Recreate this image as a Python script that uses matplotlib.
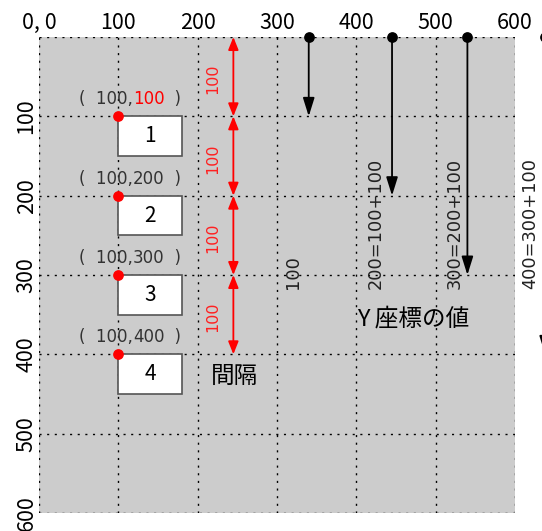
import matplotlib
matplotlib.use("Agg")
import matplotlib.pyplot as plt
from matplotlib.patches import Rectangle
from matplotlib.offsetbox import TextArea, HPacker, AnnotationBbox

plt.rcParams['font.family'] = ['Noto Sans CJK JP', 'DejaVu Sans']

# data
x_ticks = [0, 100, 200, 300, 400, 500, 600]
x_tick_labels = ['0, 0', '100', '200', '300', '400', '500', '600']
y_ticks = [100, 200, 300, 400, 500, 600]
y_tick_labels = ['100', '200', '300', '400', '500', '600']

box_names = ['1', '2', '3', '4']
box_x = 100
box_y = [100, 200, 300, 400]
box_w = 80
box_h = 50

interval_x = 245
interval_from = [0, 100, 200, 300]
interval_to = [100, 200, 300, 400]
interval_label = '100'

sum_x = [340, 445, 540, 638]
sum_to = [100, 200, 300, 400]
sum_labels = ['100', '200=100+100', '300=200+100', '400=300+100']
sum_label_x = [320, 425, 524, 619]

fig = plt.figure(figsize=(5.42, 5.31), dpi=100)
ax = fig.add_axes([39/542, 1-513/531, 476/542, 476/531])
ax.set_facecolor('#cccccc')
ax.set_xlim(0, 600)
ax.set_ylim(600, 0)
for s in ax.spines.values():
    s.set_visible(False)

ax.xaxis.tick_top()
ax.set_xticks(x_ticks)
ax.set_xticklabels(x_tick_labels, fontsize=15.5)
ax.set_yticks(y_ticks)
ax.set_yticklabels(y_tick_labels, fontsize=15.5, rotation=90, va='center')
ax.tick_params(axis='x', length=0, pad=2)
ax.tick_params(axis='y', length=0, pad=1)

for v in x_ticks:
    ax.axvline(v, color='black', lw=1, ls=(0, (1.5, 4)), zorder=1)
for v in [0] + y_ticks:
    ax.axhline(v, color='black', lw=1, ls=(0, (1.5, 4)), zorder=1)

# boxes and points
for name, y in zip(box_names, box_y):
    ax.add_patch(Rectangle((box_x, y), box_w, box_h, facecolor='white',
                           edgecolor='#555555', lw=1.2, zorder=3))
    ax.text(box_x + box_w/2, y + box_h/2, name, ha='center', va='center',
            fontsize=15, zorder=4)
    ax.scatter([box_x], [y], s=45, color='red', zorder=5)
    parts = [('(  ' + str(box_x) + ',', '#333333')]
    parts.append((str(y), 'red' if y == box_y[0] else '#333333'))
    parts.append(('  )', '#333333'))
    areas = [TextArea(t, textprops=dict(color=c, fontsize=12, family='DejaVu Sans'))
             for t, c in parts]
    pack = HPacker(children=areas, pad=0, sep=0, align='baseline')
    ab = AnnotationBbox(pack, (115, y - 10), box_alignment=(0.5, 0),
                        frameon=False, pad=0, zorder=6)
    ax.add_artist(ab)

# red interval arrows
for y0, y1 in zip(interval_from, interval_to):
    ax.annotate('', xy=(interval_x, y1), xytext=(interval_x, y0),
                arrowprops=dict(arrowstyle='<|-|>, head_length=0.55, head_width=0.22',
                                color='red', lw=1.3, mutation_scale=14,
                                shrinkA=0, shrinkB=0), zorder=6)
    ax.text(interval_x - 26, (y0 + y1)/2 + 3, interval_label, rotation=90,
            ha='center', va='center', color='#ff2020', fontsize=11.5,
            family='DejaVu Sans')
ax.text(217, 428, '間隔', ha='left', va='center', fontsize=17)

# black cumulative arrows
for x, y1, lab, lx in zip(sum_x, sum_to, sum_labels, sum_label_x):
    ax.annotate('', xy=(x, y1), xytext=(x, 0),
                arrowprops=dict(arrowstyle='-|>, head_length=0.8, head_width=0.25',
                                color='black', lw=1.3, mutation_scale=14,
                                shrinkA=0, shrinkB=0),
                annotation_clip=False, zorder=6)
    ax.scatter([x], [0], s=45, color='black', zorder=7, clip_on=False)
    ax.text(lx, 318, lab, rotation=90, ha='center', va='bottom',
            fontsize=12.8, color='#222222', clip_on=False, family='DejaVu Sans')
ax.text(401, 355, 'Y 座標の値', ha='left', va='center', fontsize=17)

fig.savefig('out.png', dpi=100)
